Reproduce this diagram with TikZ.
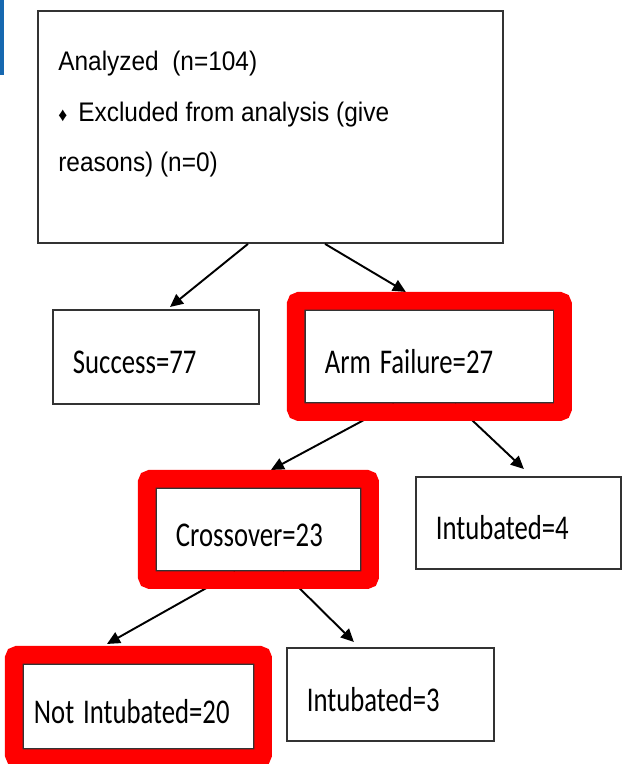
\documentclass[tikz,border=0pt]{standalone}
\usepackage{fontspec}
\usepackage{graphicx}
\setmainfont{Liberation Sans}
\newfontfamily\carlito{Carlito}
\usetikzlibrary{positioning, calc, fit, arrows.meta}
\pgfdeclarelayer{front}
\pgfsetlayers{main,front}
\definecolor{barblue}{RGB}{22,104,176}
\definecolor{markred}{RGB}{255,0,0}
\newcommand{\stretchy}[1]{\scalebox{1}[1.3]{#1}}

\tikzset{
  box/.style 2 args = {draw=black!80, line width=1.1pt, anchor=north west,
    inner xsep=0.4cm, text width=#1, minimum height=#2, align=left,
    text height=0.68cm, text depth=0pt, font=\carlito\fontsize{15.2}{18}\selectfont},
  hilite/.style = {draw=markred, line width=10pt, rounded corners=2pt, inner sep=0.165cm},
  flow/.style = {-{Triangle[length=0.26cm, width=0.24cm]}, line width=1.1pt}
}

\begin{document}
\begin{tikzpicture}[x=0.02cm, y=-0.02cm]
\useasboundingbox (0,0) rectangle (624,764);
\fill[barblue] (0,0) rectangle (4,75);

% top box
\node[draw=black!80, line width=1.1pt, anchor=north west, minimum width=9.3cm, minimum height=4.64cm] (analyzed) at (37,10) {};
\node[anchor=north west, inner sep=0pt, align=left, font=\fontsize{13.9}{28.7}\selectfont] (analyzedtext) at ($(analyzed.north west)+(21,41)$)
  {\scalebox{1}[1.1]{Analyzed\ \ (n=104)}\\\scalebox{1}[1.1]{{\fontsize{10}{10}\selectfont ♦}\hspace{0.22cm}Excluded from analysis (give}\\\scalebox{1}[1.1]{reasons) (n=0)}};

% second row
\node[box={3.32cm}{1.88cm}] (success) at (52,309) {\stretchy{Success=77}};
\node[box={4.18cm}{1.86cm}, right=0.88cm of success.north east, anchor=north west] (arm) {\stretchy{Arm Failure=27}};

% third row
\node[box={3.30cm}{1.66cm}] (crossover) at (155,487) {\stretchy{Crossover=23}};
\node[box={3.30cm}{1.84cm}, right=1.06cm of crossover.north east, anchor=north west, yshift=0.22cm] (intub4) {\stretchy{Intubated=4}};

% fourth row
\node[box={4.18cm}{1.70cm}, inner xsep=0.22cm] (notintub) at (22,663) {\stretchy{Not Intubated=20}};
\node[box={3.34cm}{1.86cm}, right=0.62cm of notintub.north east, anchor=north west, yshift=0.32cm] (intub3) {\stretchy{Intubated=3}};

% red marks, kept above the arrows
\begin{pgfonlayer}{front}
\node[hilite, fit=(arm)] (armmark) {};
\node[hilite, fit=(crossover)] (crossmark) {};
\node[hilite, fit=(notintub)] (notmark) {};
\end{pgfonlayer}

% arrows
\draw[flow] ($(analyzed.south west)+(211,0)$) -- ($(success.north west)+(118,-2)$);
\draw[flow] ($(analyzed.south west)+(288,0)$) -- ($(armmark.north west)+(119,0)$);
\draw[flow] ($(arm.south west)+(90,0)$) -- ($(crossmark.north east)+(-108,0)$);
\draw[flow] ($(arm.south west)+(151,0)$) -- ($(intub4.north west)+(109,-7)$);
\draw[flow] ($(crossover.south west)+(80,0)$) -- ($(notmark.north west)+(102,-2)$);
\draw[flow] ($(crossover.south west)+(128,0)$) -- ($(intub3.north west)+(68,-5)$);
\end{tikzpicture}
\end{document}
